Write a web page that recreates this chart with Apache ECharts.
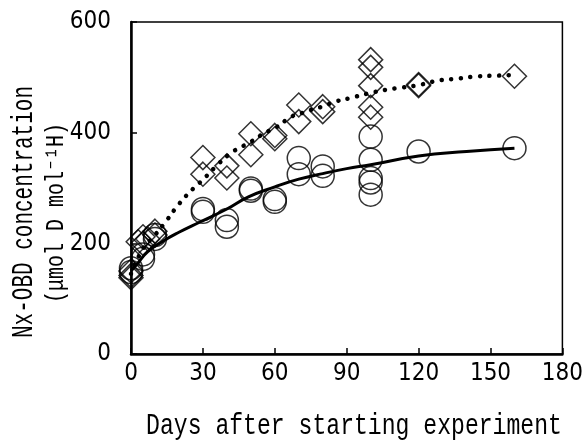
<!DOCTYPE html>
<html>
<head>
<meta charset="utf-8">
<script src="https://cdn.jsdelivr.net/npm/echarts@6/dist/echarts.min.js"></script>
<style>
  html, body { margin: 0; padding: 0; background: #fff; }
  #chart { width: 586px; height: 443px; }
</style>
</head>
<body>
<div id="chart"></div>
<script>
// 轴刻度
const xTicks = { min: 0, max: 180, interval: 30 };
const yTicks = { min: 0, max: 600, interval: 200 };

// 圆圈数据 [天数, 浓度]
const circlePoints = [
  [0, 155], [0, 148], [5, 172], [5, 180], [10, 215], [10, 208],
  [30, 257], [30, 262], [40, 242], [40, 230], [50, 299], [50, 295],
  [60, 280], [60, 275], [70, 354], [70, 325], [80, 339], [80, 322],
  [100, 393], [100, 351], [100, 318], [100, 310], [100, 288],
  [120, 366], [160, 372]
];
// 菱形数据
const diamondPoints = [
  [0, 150], [0, 142], [0, 138], [3, 203], [5, 212], [5, 200], [7, 208],
  [10, 222], [10, 215], [30, 355], [30, 325], [40, 340], [40, 318],
  [50, 398], [50, 360], [60, 395], [60, 389], [70, 450], [70, 420],
  [80, 447], [80, 438], [100, 532], [100, 518], [100, 485], [100, 446],
  [100, 428], [120, 487], [120, 485], [160, 502]
];
// 实线（圆圈拟合）
const solidLine = [
  [0, 150], [3, 165], [7, 185], [13, 203], [20, 220], [29, 239], [40, 262],
  [49, 284], [60, 302], [70, 316], [80, 326], [90, 335], [100, 342],
  [120, 358], [140, 366], [160, 372]
];
// 点线（菱形拟合）
const dottedLine = [
  [0, 145], [5, 190], [10, 215], [15, 242], [20, 271], [26, 299], [30, 315],
  [35, 337], [41, 361], [45, 372], [49, 381], [56, 400], [60, 408],
  [67, 429], [71, 435], [75, 441], [79, 446], [86, 457], [91, 462],
  [99, 471], [107, 478], [112, 481], [120, 486], [128, 494], [137, 498],
  [145, 502], [153, 503], [158, 504]
];

const tickFont = '"Liberation Sans Narrow", "DejaVu Sans Condensed", sans-serif';
const titleFont = '"Liberation Mono", "DejaVu Sans Mono", monospace';

const chart = echarts.init(document.getElementById('chart'));
const option = {
  animation: false,
  grid: {
    left: 131, right: 21, top: 22, bottom: 89,
    show: true, borderColor: '#000', borderWidth: 1.5
  },
  xAxis: {
    type: 'value',
    min: xTicks.min, max: xTicks.max, interval: xTicks.interval,
    axisLine: { show: true, onZero: false, lineStyle: { color: '#000', width: 2.5 } },
    axisTick: { show: true, inside: true, length: 6, lineStyle: { color: '#000', width: 1.5 } },
    axisLabel: { color: '#000', fontFamily: tickFont, fontSize: 24, margin: 8 },
    splitLine: { show: false }
  },
  yAxis: {
    type: 'value',
    min: yTicks.min, max: yTicks.max, interval: yTicks.interval,
    axisLine: { show: true, onZero: false, lineStyle: { color: '#000', width: 2.5 } },
    axisTick: { show: true, inside: true, length: 6, lineStyle: { color: '#000', width: 1.5 } },
    axisLabel: { color: '#000', fontFamily: tickFont, fontSize: 24, margin: 20 },
    splitLine: { show: false }
  },
  graphic: [
    {
      type: 'text', x: 24, y: 212, rotation: Math.PI / 2, scaleX: 0.7,
      style: {
        text: 'Nx-OBD concentration', fill: '#000', font: '30px ' + titleFont,
        align: 'center', verticalAlign: 'middle'
      }
    },
    {
      type: 'text', x: 56, y: 213, rotation: Math.PI / 2, scaleX: 0.8,
      style: {
        text: '(μmol D mol⁻¹H)', fill: '#000', font: '25px ' + titleFont,
        align: 'center', verticalAlign: 'middle'
      }
    },
    {
      type: 'text', x: 354, y: 426, scaleX: 0.77,
      style: {
        text: 'Days after starting experiment', fill: '#000', font: '30px ' + titleFont,
        align: 'center', verticalAlign: 'middle'
      }
    }
  ],
  series: [
    {
      type: 'line', data: solidLine, smooth: true, symbol: 'none',
      lineStyle: { color: '#000', width: 3 }, z: 3
    },
    {
      type: 'line', data: dottedLine, smooth: true, symbol: 'none',
      lineStyle: { color: '#000', width: 4.5, type: [0.1, 9.5], cap: 'round' }, z: 3
    },
    {
      type: 'scatter', data: circlePoints, symbol: 'circle', symbolSize: 23,
      itemStyle: { color: 'transparent', borderColor: '#000', borderWidth: 1.5 }, z: 4
    },
    {
      type: 'scatter', data: diamondPoints, symbol: 'diamond', symbolSize: 24,
      itemStyle: { color: 'transparent', borderColor: '#000', borderWidth: 1.5 }, z: 4
    }
  ]
};
chart.setOption(option);
</script>
</body>
</html>
